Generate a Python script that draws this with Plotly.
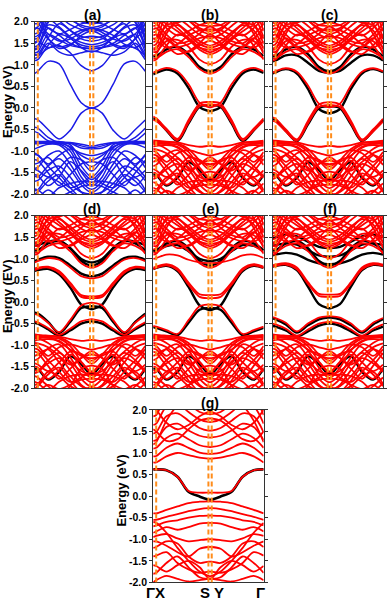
import plotly.graph_objects as go

# ---------------- data ----------------
# k-path positions (normalised): Gamma, X, ... , S, Y, ... , Gamma
K = [0.0, 0.027, 0.12, 0.22, 0.32, 0.42, 0.50, 0.53, 0.61, 0.71, 0.81, 0.91, 1.0]
K_MARKS = [0.027, 0.50, 0.53]          # X, S, Y (dashed lines)
Y_TICKS = [-2.0, -1.5, -1.0, -0.5, 0.0, 0.5, 1.0, 1.5, 2.0]
Y_TICK_TEXT = ["-2.0", "-1.5", "-1.0", "-0.5", "0.0", "0.5", "1.0", "1.5", "2.0"]
X_LABELS = ["ΓX", "S Y", "Γ"]
PANEL_TITLES = ["(a)", "(b)", "(c)", "(d)", "(e)", "(f)", "(g)"]

# ---- panel (a): blue bands
A_GAP = [
    [0.80, 0.85, 1.08, 1.02, 0.55, 0.12, 0.00, 0.00, 0.12, 0.55, 1.02, 1.08, 0.85],
    [-0.25, -0.27, -0.50, -0.72, -0.52, -0.12, 0.00, 0.00, -0.12, -0.52, -0.72, -0.50, -0.28],
]
A_CB = [
    [1.25, 1.22, 1.38, 1.45, 1.28, 0.98, 0.87, 0.87, 0.98, 1.28, 1.45, 1.38, 1.22],
    [1.35, 1.38, 1.85, 1.68, 1.50, 1.40, 1.37, 1.37, 1.40, 1.50, 1.68, 1.85, 1.38],
    [1.50, 1.55, 2.05, 1.88, 1.65, 1.52, 1.47, 1.47, 1.52, 1.65, 1.88, 2.05, 1.55],
    [1.60, 1.62, 2.15, 2.02, 1.80, 1.66, 1.62, 1.62, 1.66, 1.80, 2.02, 2.15, 1.62],
    [1.72, 1.75, 2.22, 2.12, 1.93, 1.82, 1.78, 1.78, 1.82, 1.93, 2.12, 2.22, 1.75],
    [1.85, 1.88, 2.30, 2.22, 2.05, 1.92, 1.87, 1.87, 1.92, 2.05, 2.22, 2.30, 1.88],
    [1.95, 1.95, 1.72, 1.55, 1.60, 1.75, 1.85, 1.85, 1.75, 1.60, 1.55, 1.72, 1.95],
    [2.10, 2.05, 1.85, 1.72, 1.82, 1.95, 1.98, 1.98, 1.95, 1.82, 1.72, 1.85, 2.05],
    [1.15, 1.18, 1.50, 1.30, 1.22, 1.28, 1.32, 1.32, 1.28, 1.22, 1.30, 1.50, 1.18],
    [2.30, 2.20, 1.62, 1.38, 1.45, 1.68, 1.78, 1.78, 1.68, 1.45, 1.38, 1.62, 2.20],
    [1.42, 1.45, 1.98, 2.25, 2.15, 2.00, 1.95, 1.95, 2.00, 2.15, 2.25, 1.98, 1.45],
    [1.28, 1.30, 1.70, 1.58, 1.45, 1.40, 1.38, 1.38, 1.40, 1.45, 1.58, 1.70, 1.30],
    [1.10, 1.12, 1.45, 1.70, 1.62, 1.40, 1.30, 1.30, 1.40, 1.62, 1.70, 1.45, 1.12],
    [1.52, 1.55, 1.40, 1.48, 1.68, 1.80, 1.82, 1.82, 1.80, 1.68, 1.48, 1.40, 1.55],
    [1.82, 1.85, 1.60, 1.42, 1.48, 1.62, 1.66, 1.66, 1.62, 1.48, 1.42, 1.60, 1.85],
    [1.65, 1.68, 2.00, 2.30, 2.10, 1.88, 1.82, 1.82, 1.88, 2.10, 2.30, 2.00, 1.68],
    [1.38, 1.40, 1.92, 1.85, 1.62, 1.46, 1.42, 1.42, 1.46, 1.62, 1.85, 1.92, 1.40],
    [1.22, 1.24, 1.62, 1.95, 1.80, 1.60, 1.55, 1.55, 1.60, 1.80, 1.95, 1.62, 1.24],
]
A_VB = [
    [-0.45, -0.47, -0.68, -0.80, -0.82, -0.93, -0.95, -0.95, -0.93, -0.82, -0.80, -0.68, -0.47],
    [-0.78, -0.78, -0.78, -0.78, -0.85, -1.20, -1.45, -1.45, -1.20, -0.85, -0.78, -0.78, -0.78],
    [-0.80, -0.80, -0.80, -0.80, -0.92, -1.35, -1.58, -1.58, -1.35, -0.92, -0.80, -0.80, -0.80],
    [-0.83, -0.83, -0.82, -0.83, -1.00, -1.48, -1.72, -1.72, -1.48, -1.00, -0.83, -0.82, -0.83],
    [-0.95, -0.92, -0.84, -0.86, -1.10, -1.60, -1.80, -1.80, -1.60, -1.10, -0.86, -0.84, -0.92],
    [-1.05, -1.08, -1.30, -1.10, -0.95, -1.05, -1.10, -1.10, -1.05, -0.95, -1.10, -1.30, -1.08],
    [-1.20, -1.22, -1.50, -1.80, -1.55, -1.30, -1.25, -1.25, -1.30, -1.55, -1.80, -1.50, -1.22],
    [-1.40, -1.38, -1.10, -1.00, -1.30, -1.70, -1.88, -1.88, -1.70, -1.30, -1.00, -1.10, -1.38],
    [-1.55, -1.57, -1.80, -1.60, -1.25, -1.45, -1.65, -1.65, -1.45, -1.25, -1.60, -1.80, -1.57],
    [-1.70, -1.68, -1.45, -1.35, -1.60, -1.95, -2.10, -2.10, -1.95, -1.60, -1.35, -1.45, -1.68],
    [-1.88, -1.90, -2.05, -1.85, -1.75, -1.70, -1.72, -1.72, -1.70, -1.75, -1.85, -2.05, -1.90],
    [-2.00, -1.95, -1.70, -1.55, -1.85, -2.10, -2.20, -2.20, -2.10, -1.85, -1.55, -1.70, -1.95],
    [-0.55, -0.58, -0.76, -0.79, -0.80, -0.84, -0.88, -0.88, -0.84, -0.80, -0.79, -0.76, -0.58],
    [-2.20, -2.10, -1.90, -2.05, -1.95, -1.82, -1.78, -1.78, -1.82, -1.95, -2.05, -1.90, -2.10],
    [-1.30, -1.28, -1.15, -1.45, -1.75, -1.95, -2.00, -2.00, -1.95, -1.75, -1.45, -1.15, -1.28],
    [-0.78, -0.79, -0.80, -0.80, -0.81, -0.88, -0.92, -0.92, -0.88, -0.81, -0.80, -0.80, -0.79],
    [-0.82, -0.82, -0.81, -0.81, -0.90, -1.10, -1.20, -1.20, -1.10, -0.90, -0.81, -0.81, -0.82],
    [-1.08, -1.10, -1.35, -1.62, -1.85, -1.75, -1.62, -1.62, -1.75, -1.85, -1.62, -1.35, -1.10],
    [-1.42, -1.45, -1.60, -1.40, -1.15, -1.20, -1.35, -1.35, -1.20, -1.15, -1.40, -1.60, -1.45],
    [-1.92, -1.90, -1.62, -1.72, -1.95, -2.05, -1.98, -1.98, -2.05, -1.95, -1.72, -1.62, -1.90],
    [-1.58, -1.60, -1.35, -1.18, -1.42, -1.78, -1.95, -1.95, -1.78, -1.42, -1.18, -1.35, -1.60],
]

# ---- panels (b)-(f): common red bulk bands
RED_CB = [
    [1.15, 1.15, 1.30, 1.36, 1.18, 0.90, 0.80, 0.80, 0.90, 1.18, 1.36, 1.30, 1.15],
    [1.30, 1.30, 1.55, 1.58, 1.42, 1.12, 1.02, 1.02, 1.12, 1.42, 1.58, 1.55, 1.30],
    [1.45, 1.48, 1.90, 1.78, 1.58, 1.35, 1.25, 1.25, 1.35, 1.58, 1.78, 1.90, 1.48],
    [1.60, 1.62, 2.10, 1.95, 1.75, 1.55, 1.45, 1.45, 1.55, 1.75, 1.95, 2.10, 1.62],
    [1.75, 1.78, 2.25, 2.10, 1.90, 1.70, 1.62, 1.62, 1.70, 1.90, 2.10, 2.25, 1.78],
    [1.90, 1.92, 2.35, 2.20, 2.02, 1.85, 1.78, 1.78, 1.85, 2.02, 2.20, 2.35, 1.92],
    [1.98, 1.95, 1.70, 1.50, 1.55, 1.72, 1.88, 1.88, 1.72, 1.55, 1.50, 1.70, 1.95],
    [2.20, 2.10, 1.85, 1.68, 1.78, 1.92, 1.98, 1.98, 1.92, 1.78, 1.68, 1.85, 2.10],
    [1.22, 1.25, 1.72, 2.08, 2.20, 2.10, 2.05, 2.05, 2.10, 2.20, 2.08, 1.72, 1.25],
    [1.38, 1.40, 1.62, 1.40, 1.30, 1.45, 1.55, 1.55, 1.45, 1.30, 1.40, 1.62, 1.40],
    [1.68, 1.70, 1.45, 1.25, 1.32, 1.50, 1.70, 1.70, 1.50, 1.32, 1.25, 1.45, 1.70],
    [2.05, 2.00, 2.05, 1.85, 1.62, 1.40, 1.35, 1.35, 1.40, 1.62, 1.85, 2.05, 2.00],
    [1.10, 1.12, 1.45, 1.70, 1.62, 1.40, 1.30, 1.30, 1.40, 1.62, 1.70, 1.45, 1.12],
    [1.52, 1.55, 1.40, 1.48, 1.68, 1.80, 1.82, 1.82, 1.80, 1.68, 1.48, 1.40, 1.55],
    [1.82, 1.85, 1.60, 1.42, 1.48, 1.62, 1.66, 1.66, 1.62, 1.48, 1.42, 1.60, 1.85],
    [2.30, 2.20, 1.95, 1.98, 2.05, 1.92, 1.90, 1.90, 1.92, 2.05, 1.98, 1.95, 2.20],
    [1.35, 1.36, 1.80, 1.92, 1.70, 1.48, 1.40, 1.40, 1.48, 1.70, 1.92, 1.80, 1.36],
    [1.62, 1.60, 1.95, 2.25, 2.05, 1.80, 1.72, 1.72, 1.80, 2.05, 2.25, 1.95, 1.60],
]
RED_VB = [
    [-0.75, -0.76, -0.78, -0.80, -0.86, -0.90, -0.88, -0.88, -0.90, -0.86, -0.80, -0.78, -0.76],
    [-0.78, -0.78, -0.79, -0.82, -0.95, -1.22, -1.42, -1.42, -1.22, -0.95, -0.82, -0.79, -0.78],
    [-0.82, -0.82, -0.83, -0.85, -1.02, -1.38, -1.60, -1.60, -1.38, -1.02, -0.85, -0.83, -0.82],
    [-0.90, -0.88, -0.86, -0.90, -1.12, -1.52, -1.75, -1.75, -1.52, -1.12, -0.90, -0.86, -0.88],
    [-1.00, -1.02, -1.25, -1.05, -0.98, -1.05, -1.10, -1.10, -1.05, -0.98, -1.05, -1.25, -1.02],
    [-1.15, -1.18, -1.48, -1.78, -1.55, -1.30, -1.22, -1.22, -1.30, -1.55, -1.78, -1.48, -1.18],
    [-1.35, -1.32, -1.08, -0.98, -1.28, -1.68, -1.85, -1.85, -1.68, -1.28, -0.98, -1.08, -1.32],
    [-1.50, -1.52, -1.78, -1.58, -1.22, -1.40, -1.62, -1.62, -1.40, -1.22, -1.58, -1.78, -1.52],
    [-1.65, -1.62, -1.42, -1.30, -1.58, -1.92, -2.05, -2.05, -1.92, -1.58, -1.30, -1.42, -1.62],
    [-1.85, -1.88, -2.05, -1.85, -1.72, -1.68, -1.70, -1.70, -1.68, -1.72, -1.85, -2.05, -1.88],
    [-2.00, -1.95, -1.68, -1.52, -1.82, -2.10, -2.20, -2.20, -2.10, -1.82, -1.52, -1.68, -1.95],
    [-2.20, -2.10, -1.92, -2.02, -1.92, -1.80, -1.78, -1.78, -1.80, -1.92, -2.02, -1.92, -2.10],
    [-1.25, -1.22, -1.10, -1.40, -1.72, -1.95, -2.02, -2.02, -1.95, -1.72, -1.40, -1.10, -1.22],
    [-0.95, -0.96, -1.05, -1.25, -1.45, -1.30, -1.15, -1.15, -1.30, -1.45, -1.25, -1.05, -0.96],
    [-1.72, -1.75, -1.95, -2.15, -1.95, -1.55, -1.48, -1.48, -1.55, -1.95, -2.15, -1.95, -1.75],
    [-0.80, -0.80, -0.82, -0.92, -1.10, -1.25, -1.30, -1.30, -1.25, -1.10, -0.92, -0.82, -0.80],
    [-1.08, -1.10, -1.35, -1.62, -1.85, -1.75, -1.62, -1.62, -1.75, -1.85, -1.62, -1.35, -1.10],
    [-1.42, -1.45, -1.60, -1.40, -1.15, -1.20, -1.35, -1.35, -1.20, -1.15, -1.40, -1.60, -1.45],
    [-1.92, -1.90, -1.62, -1.72, -1.95, -2.05, -1.98, -1.98, -2.05, -1.95, -1.72, -1.62, -1.90],
    [-0.85, -0.84, -0.95, -1.15, -1.38, -1.60, -1.68, -1.68, -1.60, -1.38, -1.15, -0.95, -0.84],
    [-1.58, -1.60, -1.35, -1.18, -1.42, -1.78, -1.95, -1.95, -1.78, -1.42, -1.18, -1.35, -1.60],
]
BLACK_BULK = [
    [1.20, 1.20, 1.36, 1.42, 1.25, 0.95, 0.85, 0.85, 0.95, 1.25, 1.42, 1.36, 1.20],
    [-1.55, -1.55, -1.80, -1.62, -1.26, -1.44, -1.66, -1.66, -1.44, -1.26, -1.62, -1.80, -1.55],
]

# ---- near-gap bands of each red panel
B_RED = [
    [0.82, 0.85, 0.93, 0.85, 0.55, 0.12, 0.02, 0.02, 0.12, 0.55, 0.85, 0.93, 0.85],
    [-0.20, -0.24, -0.48, -0.72, -0.28, 0.10, 0.14, 0.14, 0.10, -0.28, -0.72, -0.48, -0.24],
    [-0.28, -0.30, -0.52, -0.75, -0.34, 0.04, 0.08, 0.08, 0.04, -0.34, -0.75, -0.52, -0.30],
]
B_BLACK = [
    [0.78, 0.81, 0.89, 0.80, 0.46, 0.02, -0.07, -0.07, 0.02, 0.46, 0.80, 0.89, 0.81],
    [-0.24, -0.27, -0.52, -0.77, -0.36, 0.03, 0.06, 0.06, 0.03, -0.36, -0.77, -0.52, -0.27],
]
C_RED = [
    [0.82, 0.85, 0.92, 0.84, 0.52, 0.10, 0.02, 0.02, 0.10, 0.52, 0.84, 0.92, 0.85],
    [-0.22, -0.25, -0.50, -0.73, -0.30, 0.08, 0.13, 0.13, 0.08, -0.30, -0.73, -0.50, -0.25],
    [-0.30, -0.32, -0.55, -0.76, -0.36, 0.02, 0.07, 0.07, 0.02, -0.36, -0.76, -0.55, -0.32],
]
C_BLACK = [
    [0.80, 0.83, 0.90, 0.80, 0.44, -0.03, -0.12, -0.12, -0.03, 0.44, 0.80, 0.90, 0.83],
    [-0.26, -0.28, -0.53, -0.77, -0.38, 0.00, 0.04, 0.04, 0.00, -0.38, -0.77, -0.53, -0.28],
    [1.08, 1.10, 1.22, 1.22, 1.05, 0.86, 0.82, 0.82, 0.86, 1.05, 1.22, 1.22, 1.10],
]
D_RED = [
    [0.78, 0.80, 0.82, 0.72, 0.45, 0.16, 0.13, 0.13, 0.16, 0.45, 0.72, 0.82, 0.80],
    [0.74, 0.77, 0.80, 0.68, 0.40, 0.12, 0.09, 0.09, 0.12, 0.40, 0.68, 0.80, 0.77],
    [0.92, 0.95, 1.02, 0.98, 0.80, 0.60, 0.55, 0.55, 0.60, 0.80, 0.98, 1.02, 0.95],
    [-0.28, -0.30, -0.48, -0.70, -0.42, -0.08, -0.02, -0.02, -0.08, -0.42, -0.70, -0.48, -0.30],
    [-0.45, -0.47, -0.60, -0.76, -0.62, -0.45, -0.40, -0.40, -0.45, -0.62, -0.76, -0.60, -0.47],
]
D_BLACK = [
    [0.72, 0.74, 0.77, 0.64, 0.34, -0.06, -0.16, -0.16, -0.06, 0.34, 0.64, 0.77, 0.74],
    [0.95, 0.98, 1.05, 1.02, 0.85, 0.66, 0.60, 0.60, 0.66, 0.85, 1.02, 1.05, 0.98],
    [1.30, 1.32, 1.40, 1.42, 1.25, 1.00, 0.92, 0.92, 1.00, 1.25, 1.42, 1.40, 1.32],
    [-0.25, -0.27, -0.46, -0.72, -0.46, -0.14, -0.10, -0.10, -0.14, -0.46, -0.72, -0.46, -0.27],
    [-0.48, -0.50, -0.63, -0.78, -0.66, -0.50, -0.45, -0.45, -0.50, -0.66, -0.78, -0.63, -0.50],
]
E_RED = [
    [0.80, 0.82, 0.88, 0.78, 0.45, 0.18, 0.16, 0.16, 0.18, 0.45, 0.78, 0.88, 0.82],
    [0.76, 0.79, 0.85, 0.74, 0.40, 0.12, 0.09, 0.09, 0.12, 0.40, 0.74, 0.85, 0.79],
    [-0.55, -0.57, -0.65, -0.74, -0.42, -0.10, -0.06, -0.06, -0.10, -0.42, -0.74, -0.65, -0.57],
    [1.00, 1.02, 1.10, 1.08, 0.98, 0.92, 0.90, 0.90, 0.92, 0.98, 1.08, 1.10, 1.02],
]
E_BLACK = [
    [0.76, 0.79, 0.84, 0.72, 0.35, -0.08, -0.18, -0.18, -0.08, 0.35, 0.72, 0.84, 0.79],
    [1.18, 1.20, 1.30, 1.32, 1.18, 1.00, 0.95, 0.95, 1.00, 1.18, 1.32, 1.30, 1.20],
    [-0.58, -0.60, -0.68, -0.77, -0.48, -0.18, -0.14, -0.14, -0.18, -0.48, -0.77, -0.68, -0.60],
]
F_RED = [
    [0.85, 0.87, 0.90, 0.80, 0.46, 0.19, 0.17, 0.17, 0.19, 0.46, 0.80, 0.90, 0.87],
    [0.82, 0.84, 0.87, 0.76, 0.42, 0.14, 0.12, 0.12, 0.14, 0.42, 0.76, 0.87, 0.84],
    [-0.35, -0.37, -0.48, -0.68, -0.50, -0.36, -0.33, -0.33, -0.36, -0.50, -0.68, -0.48, -0.37],
    [-0.50, -0.52, -0.62, -0.78, -0.64, -0.50, -0.46, -0.46, -0.50, -0.64, -0.78, -0.62, -0.52],
]
F_BLACK = [
    [0.82, 0.84, 0.86, 0.74, 0.36, -0.05, -0.14, -0.14, -0.05, 0.36, 0.74, 0.86, 0.84],
    [1.08, 1.10, 1.14, 1.10, 0.98, 0.90, 0.88, 0.88, 0.90, 0.98, 1.10, 1.14, 1.10],
    [1.30, 1.32, 1.36, 1.33, 1.20, 1.08, 1.05, 1.05, 1.08, 1.20, 1.33, 1.36, 1.32],
    [1.48, 1.50, 1.56, 1.52, 1.40, 1.28, 1.25, 1.25, 1.28, 1.40, 1.52, 1.56, 1.50],
    [-0.38, -0.40, -0.52, -0.71, -0.54, -0.40, -0.36, -0.36, -0.40, -0.54, -0.71, -0.52, -0.40],
    [-0.55, -0.57, -0.66, -0.80, -0.68, -0.55, -0.50, -0.50, -0.55, -0.68, -0.80, -0.66, -0.57],
]

# ---- panel (g)
G_CB = [
    [0.62, 0.62, 0.60, 0.45, 0.12, 0.08, 0.08, 0.08, 0.08, 0.12, 0.45, 0.60, 0.62],
    [0.78, 0.78, 0.92, 1.00, 0.95, 0.89, 0.87, 0.87, 0.89, 0.95, 1.00, 0.92, 0.78],
    [0.92, 0.93, 1.12, 1.22, 1.12, 1.01, 0.98, 0.98, 1.01, 1.12, 1.22, 1.12, 0.93],
    [1.10, 1.12, 1.35, 1.45, 1.32, 1.18, 1.14, 1.14, 1.18, 1.32, 1.45, 1.35, 1.12],
    [1.28, 1.30, 1.60, 1.68, 1.52, 1.40, 1.36, 1.36, 1.40, 1.52, 1.68, 1.60, 1.30],
    [1.45, 1.48, 1.85, 1.92, 1.75, 1.58, 1.52, 1.52, 1.58, 1.75, 1.92, 1.85, 1.48],
    [1.65, 1.68, 2.08, 2.15, 1.95, 1.78, 1.72, 1.72, 1.78, 1.95, 2.15, 2.08, 1.68],
    [1.85, 1.88, 2.30, 2.35, 2.15, 1.95, 1.90, 1.90, 1.95, 2.15, 2.35, 2.30, 1.88],
    [1.20, 1.25, 1.75, 2.10, 2.25, 2.20, 2.15, 2.15, 2.20, 2.25, 2.10, 1.75, 1.25],
    [1.55, 1.50, 1.28, 1.32, 1.55, 1.75, 1.80, 1.80, 1.75, 1.55, 1.32, 1.28, 1.50],
    [2.05, 2.00, 1.70, 1.55, 1.65, 1.85, 1.95, 1.95, 1.85, 1.65, 1.55, 1.70, 2.00],
]
G_VB = [
    [-0.40, -0.40, -0.32, -0.24, -0.16, -0.13, -0.12, -0.12, -0.13, -0.16, -0.24, -0.32, -0.40],
    [-0.55, -0.55, -0.48, -0.42, -0.35, -0.30, -0.28, -0.28, -0.30, -0.35, -0.42, -0.48, -0.55],
    [-0.70, -0.68, -0.60, -0.56, -0.50, -0.46, -0.45, -0.45, -0.46, -0.50, -0.56, -0.60, -0.68],
    [-0.85, -0.82, -0.72, -0.78, -0.72, -0.64, -0.62, -0.62, -0.64, -0.72, -0.78, -0.72, -0.82],
    [-0.95, -0.92, -0.88, -0.98, -1.05, -1.02, -1.00, -1.00, -1.02, -1.05, -0.98, -0.88, -0.92],
    [-1.05, -1.05, -1.15, -1.30, -1.40, -1.22, -1.18, -1.18, -1.22, -1.40, -1.30, -1.15, -1.05],
    [-1.20, -1.18, -1.05, -1.10, -1.40, -1.55, -1.52, -1.52, -1.55, -1.40, -1.10, -1.05, -1.18],
    [-1.40, -1.38, -1.30, -1.55, -1.70, -1.78, -1.75, -1.75, -1.78, -1.70, -1.55, -1.30, -1.38],
    [-1.60, -1.62, -1.75, -1.60, -1.50, -1.65, -1.90, -1.90, -1.65, -1.50, -1.60, -1.75, -1.62],
    [-1.80, -1.78, -1.55, -1.40, -1.65, -1.88, -1.92, -1.92, -1.88, -1.65, -1.40, -1.55, -1.78],
    [-2.00, -1.95, -1.85, -1.92, -1.98, -1.95, -1.92, -1.92, -1.95, -1.98, -1.92, -1.85, -1.95],
    [-0.60, -0.62, -0.85, -1.20, -1.50, -1.75, -1.85, -1.85, -1.75, -1.50, -1.20, -0.85, -0.62],
]
G_BLACK = [
    [0.62, 0.62, 0.60, 0.45, 0.10, -0.01, -0.08, -0.08, -0.01, 0.10, 0.45, 0.60, 0.62],
]

# ---------------- layout constants ----------------
W, H = 387, 607
COLS = [(35, 146), (154, 265), (274, 385)]
ROWS = [(16, 192), (214, 390), (412, 588)]
BLUE, RED, BLACK, ORANGE = "#1a1ae6", "#ff0000", "#000000", "#ff8c1a"
FONT = "Liberation Sans, Arial, sans-serif"
RW, BW = 1.8, 2.4

PANELS = [
    # col, row, layers (bands, color, width), y-title, y-title x (px)
    (0, 0, [(A_VB + A_CB + A_GAP, BLUE, 1.5)], "Energy (eV)", 7),
    (1, 0, [(BLACK_BULK + B_BLACK, BLACK, BW), (RED_CB + RED_VB + B_RED, RED, RW)], None, 0),
    (2, 0, [(BLACK_BULK + C_BLACK, BLACK, BW), (RED_CB + RED_VB + C_RED, RED, RW)], None, 0),
    (0, 1, [(BLACK_BULK + D_BLACK, BLACK, BW), (RED_CB + RED_VB + D_RED, RED, RW)], "Energy (EV)", 7),
    (1, 1, [(BLACK_BULK + E_BLACK, BLACK, BW), (RED_CB + RED_VB + E_RED, RED, RW)], None, 0),
    (2, 1, [(BLACK_BULK + F_BLACK, BLACK, BW), (RED_CB + RED_VB + F_RED, RED, RW)], None, 0),
    (1, 2, [(G_BLACK, BLACK, 2.6), (G_CB + G_VB, RED, RW)], "Energy (eV)", 122),
]

fig = go.Figure()
layout = dict(
    width=W, height=H, margin=dict(l=0, r=0, t=0, b=0),
    paper_bgcolor="white", plot_bgcolor="white", showlegend=False,
    font=dict(family=FONT, color="black"),
)
shapes, annotations = [], []

for i, (col, row, layers, ytitle, ytx) in enumerate(PANELS):
    n = "" if i == 0 else str(i + 1)
    x0, x1 = COLS[col]
    y0, y1 = ROWS[row]
    for bands, color, width in layers:
        xs, ys = [], []
        for b in bands:
            assert len(b) == len(K), (i, b)
            xs += K + [None]
            ys += b + [None]
        fig.add_trace(go.Scatter(
            x=xs, y=ys, mode="lines", xaxis="x" + n, yaxis="y" + n,
            line=dict(color=color, width=width, shape="spline", smoothing=0.9),
            hoverinfo="skip", showlegend=False))
    layout["xaxis" + n] = dict(
        domain=[x0 / W, x1 / W], range=[0, 1], anchor="y" + n,
        showline=True, mirror=True, linecolor="#333", linewidth=1,
        showgrid=False, zeroline=False, showticklabels=False, ticks="")
    layout["yaxis" + n] = dict(
        domain=[1 - y1 / H, 1 - y0 / H], range=[-2, 2], anchor="x" + n,
        tickvals=Y_TICKS, ticktext=Y_TICK_TEXT, ticks="outside", ticklen=3,
        tickcolor="#333", showline=True, mirror="ticks", linecolor="#333", linewidth=1,
        showgrid=False, zeroline=False, showticklabels=ytitle is not None,
        tickfont=dict(family=FONT, size=10.5, color="black", weight="bold"))
    for kx in K_MARKS:
        shapes.append(dict(type="line", xref="x" + n, yref="y" + n,
                           x0=kx, x1=kx, y0=-2, y1=2, layer="above",
                           line=dict(color=ORANGE, width=2, dash="5px,3px")))
    annotations.append(dict(text=PANEL_TITLES[i], xref="paper", yref="paper",
                            x=((x0 + x1) / 2 + 2) / W, y=1 - (y0 - 7) / H,
                            showarrow=False, xanchor="center", yanchor="middle",
                            font=dict(family=FONT, size=14, color="black", weight="bold")))
    if ytitle:
        annotations.append(dict(text=ytitle, xref="paper", yref="paper",
                                x=ytx / W, y=1 - ((y0 + y1) / 2 - 6) / H, textangle=-90,
                                showarrow=False, xanchor="center", yanchor="middle",
                                font=dict(family=FONT, size=13, color="black", weight="bold")))

# k-point labels under panel (g)
for lab, px in zip(X_LABELS, [156, 213, 262]):
    annotations.append(dict(text=lab, xref="paper", yref="paper", x=px / W, y=1 - 598 / H,
                            showarrow=False, xanchor="center", yanchor="middle",
                            font=dict(family=FONT, size=15, color="black", weight="bold")))

layout["shapes"] = shapes
layout["annotations"] = annotations
fig.update_layout(**layout)
fig.write_html("out.html", config={"displayModeBar": False},
               post_script="document.body.style.margin='0';")
